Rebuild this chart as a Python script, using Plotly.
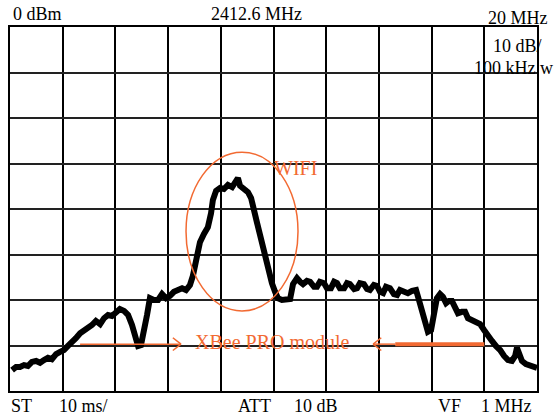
import plotly.graph_objects as go

# Spectrum trace (frequency in MHz, level in dBm)
freq_mhz = [
    2402.68, 2402.83, 2402.98, 2403.13, 2403.28, 2403.43, 2403.59, 2403.74, 2403.89, 2404.04,
    2404.19, 2404.35, 2404.50, 2404.65, 2404.80, 2404.95, 2405.10, 2405.26, 2405.41, 2405.56,
    2405.71, 2405.86, 2406.02, 2406.17, 2406.32, 2406.47, 2406.62, 2406.77, 2406.93, 2407.08,
    2407.23, 2407.34, 2407.46, 2407.57, 2407.69, 2407.80, 2407.91, 2408.06, 2408.22, 2408.37,
    2408.52, 2408.67, 2408.82, 2408.98, 2409.13, 2409.28, 2409.43, 2409.54, 2409.62, 2409.70,
    2409.81, 2409.96, 2410.11, 2410.23, 2410.30, 2410.42, 2410.57, 2410.72, 2410.87, 2411.03,
    2411.18, 2411.25, 2411.33, 2411.48, 2411.63, 2411.75, 2411.86, 2411.97, 2412.09, 2412.20,
    2412.32, 2412.43, 2412.54, 2412.66, 2412.77, 2412.92, 2413.07, 2413.23, 2413.34, 2413.49,
    2413.61, 2413.72, 2413.87, 2413.99, 2414.14, 2414.25, 2414.36, 2414.52, 2414.63, 2414.78,
    2414.90, 2415.01, 2415.12, 2415.28, 2415.39, 2415.50, 2415.66, 2415.77, 2415.88, 2416.03,
    2416.15, 2416.26, 2416.41, 2416.53, 2416.64, 2416.76, 2416.87, 2417.02, 2417.17, 2417.29,
    2417.40, 2417.55, 2417.70, 2417.86, 2418.01, 2418.12, 2418.24, 2418.35, 2418.46, 2418.58,
    2418.69, 2418.80, 2418.92, 2419.03, 2419.15, 2419.26, 2419.37, 2419.49, 2419.60, 2419.75,
    2419.87, 2419.98, 2420.13, 2420.29, 2420.44, 2420.59, 2420.74, 2420.89, 2421.04, 2421.20,
    2421.35, 2421.50, 2421.65, 2421.77, 2421.84, 2421.92, 2422.03, 2422.18, 2422.33, 2422.49,
    2422.60,
]
level_dbm = [
    -75.4, -74.7, -74.7, -74.3, -74.5, -73.6, -73.4, -73.8, -73.2, -72.7,
    -73.0, -71.9, -71.4, -71.0, -70.1, -69.0, -68.4, -67.3, -66.8, -66.2,
    -65.5, -64.6, -65.3, -64.0, -63.3, -63.5, -62.9, -62.0, -62.4, -63.3,
    -65.5, -68.1, -70.1, -69.9, -67.0, -63.3, -59.6, -60.0, -60.0, -58.7,
    -59.6, -59.1, -58.2, -57.6, -57.4, -57.8, -56.7, -54.7, -52.7, -49.5,
    -47.3, -45.5, -44.0, -40.9, -38.0, -36.0, -35.4, -35.6, -34.7, -35.2,
    -33.6, -33.2, -34.9, -35.6, -36.3, -37.6, -39.8, -42.9, -45.7, -48.4,
    -51.2, -53.8, -56.3, -58.2, -59.6, -60.0, -60.0, -59.8, -56.5, -55.2,
    -56.0, -56.5, -55.8, -56.0, -57.1, -57.1, -56.0, -56.3, -57.4, -57.4,
    -56.0, -56.3, -57.4, -57.4, -56.3, -56.5, -57.6, -57.4, -56.3, -56.5,
    -57.6, -57.8, -56.7, -56.9, -58.2, -58.5, -57.1, -57.4, -58.7, -58.9,
    -57.8, -58.0, -58.5, -58.0, -57.8, -60.0, -62.9, -65.5, -67.0, -66.6,
    -63.3, -59.6, -58.7, -59.3, -60.7, -60.2, -60.2, -61.8, -62.9, -62.6,
    -62.6, -64.0, -64.4, -64.8, -65.3, -66.6, -68.1, -69.0, -70.1, -71.0,
    -72.3, -73.2, -73.4, -72.3, -70.5, -72.1, -73.4, -74.1, -74.3, -74.5,
    -74.9,
]

# Screen settings
center_mhz = 2412.6
span_mhz = 20.0
ref_dbm = 0.0
db_per_div = 10.0
x_divs = 10
y_divs = 8

top_labels = ["0 dBm", "2412.6 MHz", "20 MHz", "10 dB/", "100 kHz w"]
bottom_labels = ["ST", "10 ms/", "ATT", "10 dB", "VF", "1 MHz"]

ORANGE = "#F26A32"
FONT = "Liberation Serif, Times New Roman, serif"

x_lo = center_mhz - span_mhz / 2
x_hi = center_mhz + span_mhz / 2
y_lo = ref_dbm - db_per_div * y_divs
y_hi = ref_dbm

fig = go.Figure()
fig.add_trace(go.Scatter(
    x=freq_mhz, y=level_dbm, mode="lines",
    line=dict(color="black", width=6), hoverinfo="skip", showlegend=False,
))

shapes = [
    # WIFI ellipse
    dict(type="circle", xref="x", yref="y", x0=2409.28, x1=2413.53, y0=-62.4, y1=-27.5,
         line=dict(color=ORANGE, width=1.5)),
    # right-pointing arrow
    dict(type="line", xref="x", yref="y", x0=2405.26, x1=2409.09, y0=-69.7, y1=-69.7,
         line=dict(color=ORANGE, width=1.5)),
    dict(type="line", xref="x", yref="y", x0=2408.78, x1=2409.09, y0=-68.3, y1=-69.7,
         line=dict(color=ORANGE, width=1.5)),
    dict(type="line", xref="x", yref="y", x0=2408.78, x1=2409.09, y0=-71.1, y1=-69.7,
         line=dict(color=ORANGE, width=1.5)),
    # left-pointing arrow
    dict(type="line", xref="x", yref="y", x0=2416.38, x1=2417.22, y0=-69.7, y1=-69.7,
         line=dict(color=ORANGE, width=1.5)),
    dict(type="line", xref="x", yref="y", x0=2416.38, x1=2416.69, y0=-69.7, y1=-68.3,
         line=dict(color=ORANGE, width=1.5)),
    dict(type="line", xref="x", yref="y", x0=2416.38, x1=2416.69, y0=-69.7, y1=-71.1,
         line=dict(color=ORANGE, width=1.5)),
    dict(type="line", xref="x", yref="y", x0=2417.22, x1=2420.60, y0=-69.7, y1=-69.7,
         line=dict(color=ORANGE, width=4)),
]

def ann(text, x, y, color="black", xanchor="left", xref="paper", yref="paper", size=18):
    return dict(text=text, x=x, y=y, xref=xref, yref=yref, xanchor=xanchor, yanchor="middle",
                showarrow=False, borderpad=0,
                font=dict(family=FONT, size=size, color=color))

annotations = [
    ann(top_labels[0], 0.004, 1.036),
    ann(top_labels[1], 0.467, 1.036, xanchor="center"),
    ann(top_labels[2], 1.023, 1.024, xanchor="right"),
    ann(top_labels[3], 1.012, 0.948, xanchor="right"),
    ann(top_labels[4], 0.879, 0.887),
    ann(bottom_labels[0], 0.0, -0.04),
    ann(bottom_labels[1], 0.091, -0.04),
    ann(bottom_labels[2], 0.431, -0.04),
    ann(bottom_labels[3], 0.537, -0.04),
    ann(bottom_labels[4], 0.810, -0.04),
    ann(bottom_labels[5], 0.892, -0.04),
    ann("WIFI", 2412.58, -31.0, color=ORANGE, xref="x", yref="y", size=20),
    ann("XBee PRO module", 2409.60, -69.3, color=ORANGE, xref="x", yref="y", size=20),
]

fig.update_layout(
    width=560, height=419,
    margin=dict(l=10, r=23, t=27, b=28),
    paper_bgcolor="white", plot_bgcolor="white",
    shapes=shapes, annotations=annotations,
    showlegend=False,
)
fig.update_xaxes(
    range=[x_lo, x_hi], tick0=x_lo, dtick=span_mhz / x_divs,
    showgrid=True, gridcolor="black", gridwidth=2,
    showline=True, mirror=True, linecolor="black", linewidth=2,
    showticklabels=False, ticks="", zeroline=False, fixedrange=True,
)
fig.update_yaxes(
    range=[y_lo, y_hi], tick0=y_lo, dtick=db_per_div,
    showgrid=True, gridcolor="#222222", gridwidth=2,
    showline=True, mirror=True, linecolor="black", linewidth=2,
    showticklabels=False, ticks="", zeroline=False, fixedrange=True,
)

# Remove the browser's default 8px body margin so the figure fills the window.
fig.write_html(
    "out.html",
    config={"displayModeBar": False, "staticPlot": True},
    post_script="document.body.style.margin='0px';",
)
